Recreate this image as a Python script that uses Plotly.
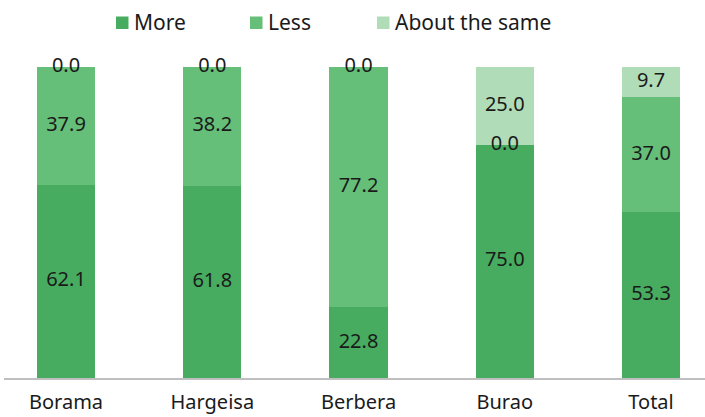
import plotly.graph_objects as go

categories = ["Borama", "Hargeisa", "Berbera", "Burao", "Total"]
more = [62.1, 61.8, 22.8, 75.0, 53.3]
less = [37.9, 38.2, 77.2, 0.0, 37.0]
same = [0.0, 0.0, 0.0, 25.0, 9.7]

series = [("More", more, "#48ac60"), ("Less", less, "#66bf79"), ("About the same", same, "#b1dcb8")]

W, H = 705, 417
ML, MR, MT, MB = 4, 0, 67, 39
PW, PH = W - ML - MR, H - MT - MB
FONT = "'Noto Sans', 'Open Sans', sans-serif"
TXT = "#1a1a1a"

fig = go.Figure()
base = [0.0] * len(categories)
label_x, label_y, label_t = [], [], []
for name, vals, col in series:
    fig.add_trace(go.Bar(x=list(range(len(categories))), y=vals, name=name, marker_color=col,
                         marker_line_width=0, width=0.397, hoverinfo="skip", showlegend=False))
    for i, v in enumerate(vals):
        label_x.append(i)
        label_y.append(base[i] + v / 2)
        label_t.append(f"{v:.1f}")
        base[i] += v

fig.add_trace(go.Scatter(x=label_x, y=label_y, text=label_t, mode="text",
                         textfont=dict(size=20, color=TXT, family=FONT),
                         showlegend=False, hoverinfo="skip", cliponaxis=False))

# custom legend (square + name), positioned in pixels
def px_x(p):
    return (p - ML) / PW

def px_y(p):
    return (H - MB - p) / PH

legend_x = [116, 250, 377]
shapes, annots = [], []
for (name, _, col), lx in zip(series, legend_x):
    shapes.append(dict(type="rect", xref="paper", yref="paper",
                       x0=px_x(lx), x1=px_x(lx + 12.5), y0=px_y(29), y1=px_y(16.5),
                       fillcolor=col, line_width=0))
    annots.append(dict(xref="paper", yref="paper", x=px_x(lx + 16), y=px_y(22.5),
                       xanchor="left", yanchor="middle", text=name, showarrow=False,
                       font=dict(size=21, color=TXT, family=FONT)))

fig.update_layout(
    barmode="stack",
    width=W, height=H,
    margin=dict(l=ML, r=MR, t=MT, b=MB, autoexpand=False),
    plot_bgcolor="white", paper_bgcolor="white",
    font=dict(family=FONT, size=21, color=TXT),
    bargap=0,
    showlegend=False,
    shapes=shapes,
    annotations=annots,
    xaxis=dict(range=[-0.424, 4.369], tickmode="array", tickvals=list(range(len(categories))),
               ticktext=categories, showgrid=False, zeroline=False, showline=True,
               linecolor="#bfbfbf", linewidth=1.5, ticks="", tickfont=dict(size=20),
               ticklabelstandoff=5),
    yaxis=dict(range=[0, 100], visible=False, showgrid=False, zeroline=False),
)
fig.write_html("out.html", config={"displayModeBar": False},
               post_script="document.body.style.margin='0';document.body.style.overflow='hidden';")
